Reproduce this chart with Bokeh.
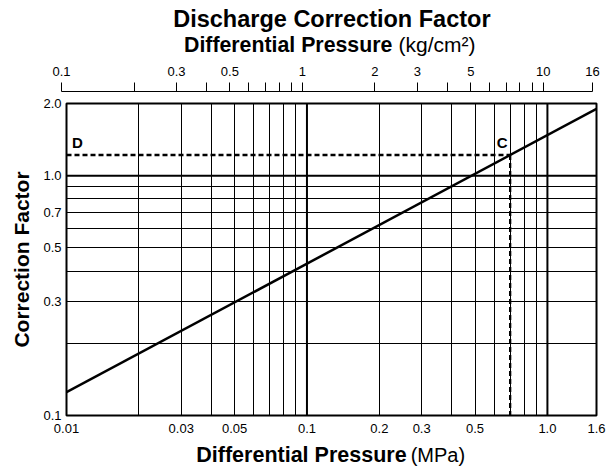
import math
from bokeh.plotting import figure
from bokeh.models import Range1d, FixedTicker, Span, Label
from bokeh.layouts import column
from bokeh.embed import file_html
from bokeh.resources import INLINE

FONT = "Liberation Sans"
W = 610

# ---- data ----
pressure_mpa = [0.01, 1.6]          # line end points (MPa)
correction_factor = [0.125, 1.9]    # correction factor at those end points
point_c_mpa = 0.7
point_c_factor = 1.22

x_range_mpa = [0.01, 1.6]
y_range_cf = [0.1, 2.0]
x_range_kg = [0.1, 16]

x_ticks_mpa = [0.01, 0.03, 0.05, 0.1, 0.2, 0.3, 0.5, 1.0, 1.6]
x_tick_text_mpa = ["0.01", "0.03", "0.05", "0.1", "0.2", "0.3", "0.5", "1.0", "1.6"]
x_grid_mpa = [0.02, 0.03, 0.04, 0.05, 0.06, 0.07, 0.08, 0.09,
              0.2, 0.3, 0.4, 0.5, 0.6, 0.7, 0.8, 0.9]
x_bold_grid_mpa = [0.1, 1.0]

y_ticks_cf = [0.1, 0.3, 0.5, 0.7, 1.0, 2.0]
y_tick_text_cf = ["0.1", "0.3", "0.5", "0.7", "1.0", "2.0"]
y_grid_cf = [0.2, 0.3, 0.4, 0.5, 0.6, 0.7, 0.8, 0.9]
y_bold_grid_cf = [1.0]

kg_major = [0.1, 0.3, 0.5, 1, 2, 3, 5, 10, 16]
kg_major_text = ["0.1", "0.3", "0.5", "1", "2", "3", "5", "10", "16"]
kg_minor = [0.2, 0.4, 0.6, 0.7, 0.8, 0.9, 4, 6, 7, 8, 9]


def text_strip(height):
    """A blank figure whose frame is the whole strip, in pixel units (y up)."""
    f = figure(width=W, height=height, x_range=Range1d(0, W), y_range=Range1d(0, height),
               x_axis_location=None, y_axis_location=None,
               toolbar_location=None, tools="", output_backend="svg",
               min_border_left=0, min_border_right=0, min_border_top=0, min_border_bottom=0,
               frame_align=False)
    f.outline_line_color = None
    f.grid.visible = False
    f.background_fill_color = "white"
    f.border_fill_color = "white"
    return f


def add_text(f, height, x, baseline_from_top, text, size_px, style, align="left"):
    # vertical centre of the em box sits 0.3465 em above the baseline
    yc = height - (baseline_from_top - 0.3465 * size_px)
    f.add_layout(Label(x=x, y=yc, text=text, text_align=align,
                       text_baseline="middle", text_font=FONT,
                       text_font_size=f"{size_px}px", text_font_style=style,
                       text_color="black"))


# ---- title strip ----
TH = 60
title_fig = text_strip(TH)
add_text(title_fig, TH, 331.4, 26.7, "Discharge Correction Factor", 23.5, "bold", "center")
add_text(title_fig, TH, 183.5, 51.7, "Differential Pressure", 21.3, "bold")
add_text(title_fig, TH, 398.0, 51.7, "(kg/cm²)", 21, "normal")

# ---- kg/cm2 axis strip ----
top = figure(width=W, height=33, x_axis_type="log",
             x_range=Range1d(*x_range_kg), y_range=Range1d(0, 1),
             x_axis_location="above", y_axis_location=None,
             toolbar_location=None, tools="", output_backend="svg",
             min_border_left=61, min_border_right=18,
             min_border_top=31, min_border_bottom=0, frame_align=False)
top.outline_line_color = None
top.grid.visible = False
top.background_fill_color = "white"
top.border_fill_color = "white"
tax = top.xaxis[0]
tax.ticker = FixedTicker(ticks=kg_major, minor_ticks=kg_minor)
tax.major_label_overrides = dict(zip(kg_major, kg_major_text))
tax.major_tick_out = 9
tax.major_tick_in = 0
tax.minor_tick_out = 9
tax.minor_tick_in = 0
tax.axis_line_color = "black"
tax.major_tick_line_color = "black"
tax.minor_tick_line_color = "black"
tax.major_label_standoff = 7
tax.major_label_text_font = FONT
tax.major_label_text_font_size = "13px"
tax.major_label_text_color = "black"

# ---- main chart ----
p = figure(width=W, height=344, x_axis_type="log", y_axis_type="log",
           x_range=Range1d(*x_range_mpa), y_range=Range1d(*y_range_cf),
           toolbar_location=None, tools="", output_backend="svg",
           min_border_left=66, min_border_right=14,
           min_border_top=10, min_border_bottom=22, frame_align=False)
p.background_fill_color = "white"
p.border_fill_color = "white"
p.outline_line_color = "black"
p.outline_line_width = 2

p.xgrid.ticker = FixedTicker(ticks=x_grid_mpa)
p.ygrid.ticker = FixedTicker(ticks=y_grid_cf)
for g in (p.xgrid[0], p.ygrid[0]):
    g.grid_line_color = "black"
    g.grid_line_width = 1
    g.grid_line_alpha = 1.0

for v in x_bold_grid_mpa:
    p.add_layout(Span(location=v, dimension="height", line_color="black", line_width=2))
for v in y_bold_grid_cf:
    p.add_layout(Span(location=v, dimension="width", line_color="black", line_width=2))

xax = p.xaxis[0]
xax.ticker = FixedTicker(ticks=x_ticks_mpa)
xax.major_label_overrides = dict(zip(x_ticks_mpa, x_tick_text_mpa))
yax = p.yaxis[0]
yax.ticker = FixedTicker(ticks=y_ticks_cf)
yax.major_label_overrides = dict(zip(y_ticks_cf, y_tick_text_cf))
for ax in (xax, yax):
    ax.axis_line_color = None
    ax.major_tick_line_color = None
    ax.minor_tick_line_color = None
    ax.major_tick_out = 0
    ax.major_tick_in = 0
    ax.major_label_text_font = FONT
    ax.major_label_text_font_size = "13px"
    ax.major_label_text_color = "black"
xax.major_label_standoff = 8
yax.major_label_standoff = 5
yax.axis_label = "Correction Factor"
yax.axis_label_text_font = FONT
yax.axis_label_text_font_size = "21px"
yax.axis_label_text_font_style = "bold"
yax.axis_label_text_color = "black"
yax.axis_label_standoff = 7

# characteristic line
p.line(pressure_mpa, correction_factor, line_color="black", line_width=2.5)

# reading example C -> D
p.line([x_range_mpa[0], point_c_mpa], [point_c_factor, point_c_factor],
       line_color="black", line_width=2.3, line_dash="5 3")
p.line([point_c_mpa, point_c_mpa], [point_c_factor, y_range_cf[0]],
       line_color="black", line_width=2.3, line_dash="5 3")

for txt, xa, dx in (("D", x_range_mpa[0], 11), ("C", point_c_mpa, -8)):
    p.add_layout(Label(x=xa, y=point_c_factor, x_offset=dx, y_offset=7.5 + 0.3465 * 15,
                       text=txt, text_align="center", text_baseline="middle",
                       text_font=FONT, text_font_size="15px", text_font_style="bold",
                       text_color="black"))

# ---- bottom axis title strip ----
BH = 31
bottom_fig = text_strip(BH)
add_text(bottom_fig, BH, 195.8, 24.7, "Differential Pressure", 21.5, "bold")
add_text(bottom_fig, BH, 410.2, 24.7, "(MPa)", 20, "normal")

layout = column(title_fig, top, p, bottom_fig, spacing=0)
open("out.html", "w").write(file_html(layout, INLINE))
